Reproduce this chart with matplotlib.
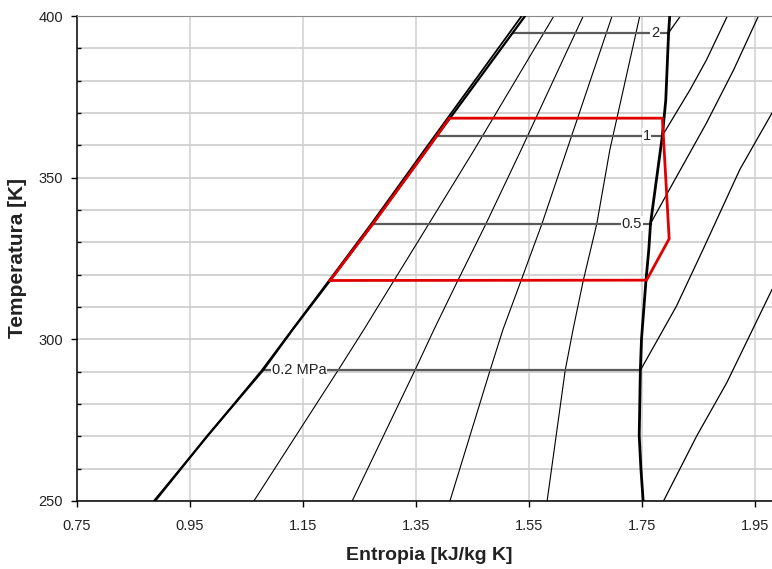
import matplotlib
matplotlib.use("Agg")
import matplotlib.pyplot as plt
from matplotlib.ticker import MultipleLocator

plt.rcParams["font.family"] = ["Liberation Sans", "DejaVu Sans"]

# saturation dome
liq_T = [250, 270, 290.4, 303.1, 318.2, 335.8, 358.6, 400]
liq_s = [0.888, 0.980, 1.079, 1.132, 1.198, 1.274, 1.369, 1.543]
# compressed-liquid isobar that runs just beside the liquid line
liq2_T = [250, 290.4, 318.2, 335.8, 358.6, 400]
liq2_s = [0.886, 1.077, 1.196, 1.271, 1.365, 1.537]

vap_T = [250, 260, 270.2, 290.4, 300, 318.3, 327.8, 335.8, 363.0, 374, 394.8, 400]
vap_s = [1.752, 1.748, 1.745, 1.747, 1.749, 1.757, 1.762, 1.765, 1.786, 1.792, 1.797, 1.799]

# constant quality lines x = 0.2 .. 0.8
qual_T = [250, 290.4, 303.1, 318.2, 335.8, 358.6, 400]
q02_s = [1.063, 1.212, 1.258, 1.311, 1.373, 1.453, 1.594]
q04_s = [1.237, 1.348, 1.382, 1.424, 1.474, 1.536, 1.646]
q06_s = [1.410, 1.481, 1.504, 1.536, 1.573, 1.617, 1.697]
q08_s = [1.582, 1.614, 1.628, 1.646, 1.670, 1.693, 1.746]

# isobars inside the dome: saturation temperature, liquid and vapour entropy
p_labels = ["0.2 MPa", "0.5", "1", "2"]
p_Tsat = [290.4, 335.8, 363.0, 394.8]
p_sliq = [1.079, 1.274, 1.387, 1.521]
p_svap = [1.747, 1.765, 1.786, 1.797]
p_label_s = [1.143, 1.732, 1.758, 1.773]

# superheated parts of the isobars
sup02_T = [290.4, 310.3, 327.8, 352.5, 370.0]
sup02_s = [1.747, 1.811, 1.858, 1.923, 1.980]
sup05_T = [335.8, 348.4, 366.9, 383.3, 400]
sup05_s = [1.765, 1.805, 1.864, 1.912, 1.956]
sup1_T = [363.0, 377.2, 386.4, 400]
sup1_s = [1.786, 1.835, 1.864, 1.901]
sup2_T = [394.8, 400]
sup2_s = [1.797, 1.818]
suplow_T = [250, 270.2, 286.6, 315.4]
suplow_s = [1.788, 1.847, 1.900, 1.980]

# cycle
cyc_s = [1.198, 1.274, 1.369, 1.409, 1.786, 1.798, 1.758, 1.198]
cyc_T = [318.2, 335.8, 358.6, 368.4, 368.4, 331.1, 318.3, 318.2]

fig = plt.figure(figsize=(7.72, 5.69), dpi=100)
ax = fig.add_axes([77 / 772, 68 / 569, 695 / 772, 485 / 569])

# grid
for T in range(250, 401, 10):
    ax.axhline(T, color="#c8c8c8", lw=1.1, zorder=0)
for s in [0.95, 1.15, 1.35, 1.55, 1.75, 1.95]:
    ax.axvline(s, color="#d0d0d0", lw=1.1, zorder=0)

# quality lines
for qs in [q02_s, q04_s, q06_s, q08_s]:
    ax.plot(qs, qual_T, color="black", lw=0.8, zorder=2)

# isobars
for sl, sv, T in zip(p_sliq, p_svap, p_Tsat):
    ax.plot([sl, sv], [T, T], color="#5a5a5a", lw=1.6, zorder=2)
for s_, T_ in [(sup02_s, sup02_T), (sup05_s, sup05_T), (sup1_s, sup1_T),
               (sup2_s, sup2_T), (suplow_s, suplow_T)]:
    ax.plot(s_, T_, color="black", lw=0.9, zorder=2)

# saturation lines
ax.plot(liq2_s, liq2_T, color="black", lw=1.3, zorder=3)
ax.plot(liq_s, liq_T, color="black", lw=1.6, zorder=3)
ax.plot(vap_s, vap_T, color="black", lw=2.0, zorder=3)

# cycle
ax.plot(cyc_s, cyc_T, color="#e00000", lw=2.0, zorder=4)

# isobar labels
for lab, s, T in zip(p_labels, p_label_s, p_Tsat):
    ax.text(s, T, lab, ha="center", va="center", fontsize=10.5, color="#222222",
            zorder=5, bbox=dict(facecolor="white", edgecolor="none", pad=0.5))

ax.set_xlim(0.75, 1.98)
ax.set_ylim(250, 400)
ax.set_xticks([0.75, 0.95, 1.15, 1.35, 1.55, 1.75, 1.95])
ax.set_xticklabels(["0.75", "0.95", "1.15", "1.35", "1.55", "1.75", "1.95"])
ax.set_yticks([250, 300, 350, 400])
ax.yaxis.set_minor_locator(MultipleLocator(10))
ax.tick_params(axis="both", which="major", direction="out", length=4,
               width=1, labelsize=10.5, color="black", labelcolor="#222222")
ax.tick_params(axis="x", which="major", pad=9)
ax.tick_params(axis="y", which="major", pad=6)
ax.tick_params(axis="y", which="minor", direction="in", length=3, width=1)

ax.spines["right"].set_visible(False)
ax.spines["top"].set_color("#888888")
ax.spines["left"].set_linewidth(1.1)
ax.spines["bottom"].set_linewidth(1.1)

fig.text(429.5 / 772, 1 - 556 / 569, "Entropia [kJ/kg K]", ha="center", va="center",
         fontsize=14, fontweight="bold", color="#222222")
fig.text(17.5 / 772, 1 - 258.5 / 569, "Temperatura [K]", ha="center", va="center",
         rotation=90, fontsize=15, fontweight="bold", color="#222222")

fig.savefig("out.png", dpi=100)
